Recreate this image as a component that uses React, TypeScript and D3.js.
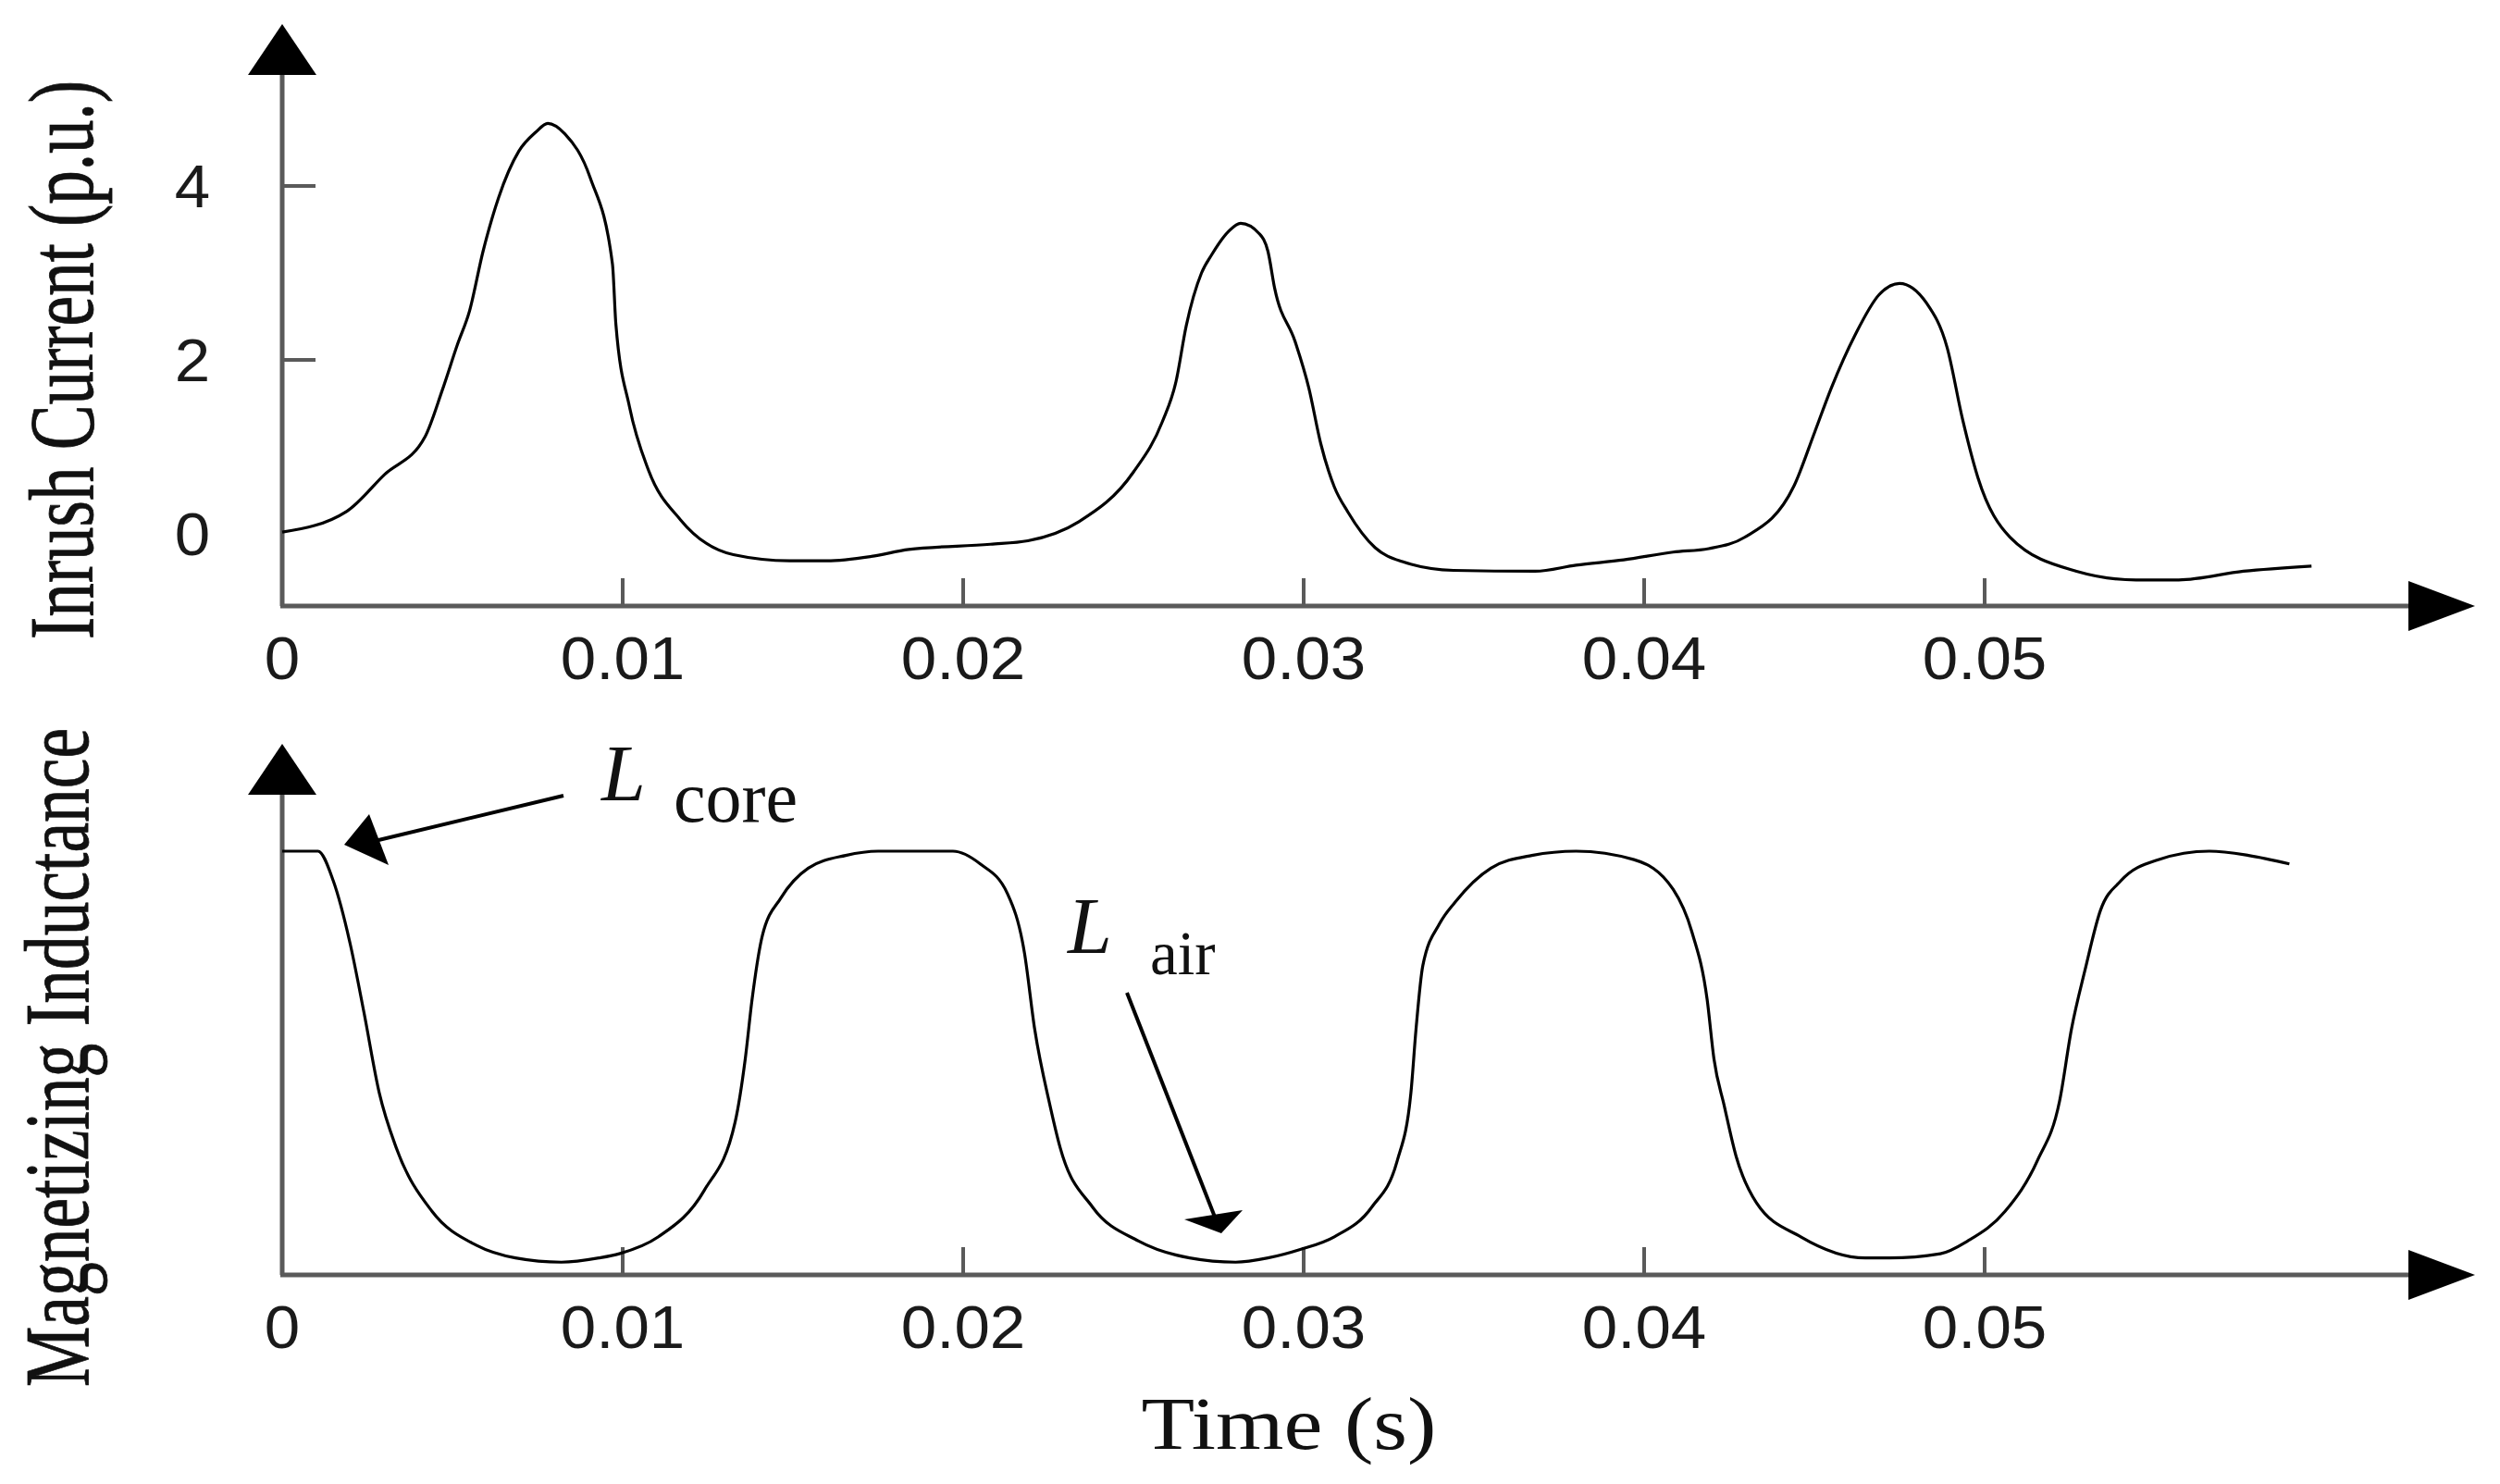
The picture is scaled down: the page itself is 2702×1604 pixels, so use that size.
import React from 'react';
import * as d3 from 'd3';

// time in ms (tick labels are shown in seconds)
const timeTicks = [0, 10, 20, 30, 40, 50];
const timeTickLabels = ['0', '0.01', '0.02', '0.03', '0.04', '0.05'];
const currentTicks = [0, 2, 4];
const currentTickLabels = ['0', '2', '4'];

// inrush current (p.u.)
const inrushTime = [
  0, 1.9, 3.0, 4.2, 4.7, 5.15, 5.5, 5.9, 6.35, 6.95, 7.45, 7.8, 8.3, 9.05, 9.7, 9.8,
  10.2, 10.75, 11.7, 13.25, 14.9, 16.0, 17.3, 18.4, 20.8, 21.9, 23.4, 25.0, 25.85,
  26.25, 26.55, 27.0, 27.3, 27.8, 28.15, 28.7, 28.95, 29.15, 29.75, 30.15, 30.5,
  30.9, 31.3, 32.1, 32.9, 34.4, 36.8, 38.0, 39.4, 40.85, 41.9, 42.95, 44.4, 45.0,
  45.5, 46.2, 46.9, 47.5, 48.3, 48.9, 49.35, 49.8, 50.75, 52.7, 54.45, 55.7, 57.6, 59.6,
];
const inrushCurrent = [
  0.02, 0.26, 0.68, 1.12, 1.65, 2.18, 2.56, 3.25, 3.86, 4.4, 4.62, 4.72, 4.6, 4.09, 3.1, 2.41,
  1.46, 0.74, 0.16, -0.24, -0.31, -0.31, -0.26, -0.18, -0.12, -0.08, 0.14, 0.71, 1.29,
  1.75, 2.39, 3.0, 3.21, 3.48, 3.57, 3.45, 3.25, 2.82, 2.21, 1.68, 1.04,
  0.54, 0.25, -0.16, -0.32, -0.42, -0.43, -0.36, -0.3, -0.21, -0.17, -0.04, 0.55, 1.16,
  1.68, 2.29, 2.75, 2.88, 2.65, 2.14, 1.32, 0.65, -0.04, -0.43, -0.53, -0.53, -0.43, -0.37,
];

// magnetizing inductance, relative (1 = L core plateau)
const inductTime = [
  0, 1.05, 1.5, 2.0, 2.4, 2.85, 3.35, 4.4, 5.7, 6.85, 8.2, 9.3, 9.9, 11.05, 12.4, 13.3,
  13.6, 13.8, 14.1, 14.65, 15.45, 16.55, 17.5, 19.7, 20.5, 21.3, 21.8, 22.1, 22.55,
  22.85, 23.8, 25.15, 26.65, 28.0, 28.95, 29.9, 30.9, 32.0, 32.75, 33.15, 33.3, 33.5,
  34.0, 34.45, 35.5, 36.7, 38.0, 39.7, 40.85, 41.4, 41.85, 42.05, 42.35, 42.7, 43.3,
  44.6, 46.5, 47.2, 48.7, 49.5, 50.6, 51.55, 52.2, 52.55, 52.95, 53.4, 54.0, 55.1,
  56.6, 57.75, 58.95,
];
const inductValue = [
  1.0, 1.0, 0.93, 0.78, 0.62, 0.43, 0.3, 0.15, 0.07, 0.04, 0.03, 0.04, 0.05, 0.09, 0.2, 0.36,
  0.51, 0.65, 0.8, 0.89, 0.96, 0.99, 1.0, 1.0, 0.97, 0.9, 0.76, 0.58, 0.4,
  0.3, 0.16, 0.08, 0.04, 0.03, 0.04, 0.06, 0.09, 0.16, 0.27, 0.43, 0.58, 0.73,
  0.83, 0.88, 0.96, 0.99, 1.0, 0.98, 0.91, 0.81, 0.65, 0.51, 0.4, 0.28, 0.17,
  0.09, 0.04, 0.04, 0.05, 0.08, 0.15, 0.27, 0.41, 0.58, 0.72, 0.86, 0.93, 0.98,
  1.0, 0.99, 0.97,
];

const W = 2702;
const H = 1604;
const AXIS = '#5a5a5a';
const SANS = '"Liberation Sans", Arial, sans-serif';
const SERIF = '"Liberation Serif", "Times New Roman", serif';

const x = d3.scaleLinear().domain([0, 60]).range([305, 2513]);
const yTop = d3.scaleLinear().domain([0, 4]).range([577, 201]);
const yBot = d3.scaleLinear().domain([0, 1]).range([1378, 920]);

const topAxisY = 655;
const botAxisY = 1378;
const axisX = x(0);
const arrowEnd = 2675;

const lineTop = d3
  .line<number>()
  .x((_, i) => x(inrushTime[i]))
  .y((d) => yTop(d))
  .curve(d3.curveMonotoneX);

const lineBot = d3
  .line<number>()
  .x((_, i) => x(inductTime[i]))
  .y((d) => yBot(d))
  .curve(d3.curveMonotoneX);

function Frame({ axisY, tipY }: { axisY: number; tipY: number }) {
  return (
    <g>
      <line x1={axisX} y1={axisY} x2={axisX} y2={tipY + 50} stroke={AXIS} strokeWidth={5} />
      <line x1={axisX - 2} y1={axisY} x2={arrowEnd - 70} y2={axisY} stroke={AXIS} strokeWidth={5} />
      <polygon points={`${axisX},${tipY} ${axisX - 37},${tipY + 55} ${axisX + 37},${tipY + 55}`} fill="#000" />
      <polygon
        points={`${arrowEnd},${axisY} ${arrowEnd - 72},${axisY - 27} ${arrowEnd - 72},${axisY + 27}`}
        fill="#000"
      />
      {timeTicks.map((t, i) => (
        <g key={t}>
          {t > 0 && (
            <line x1={x(t)} y1={axisY} x2={x(t)} y2={axisY - 30} stroke={AXIS} strokeWidth={4} />
          )}
          <text
            transform={`translate(${x(t)},${axisY + 79}) scale(1.08,1)`}
            textAnchor="middle"
            fontFamily={SANS}
            fontSize={64}
            fill="#1a1a1a"
          >
            {timeTickLabels[i]}
          </text>
        </g>
      ))}
    </g>
  );
}

export default function App() {
  return (
    <svg
      width={W}
      height={H}
      viewBox={`0 0 ${W} ${H}`}
      style={{ position: 'absolute', left: 0, top: 0, background: '#fff' }}
    >
      <rect width={W} height={H} fill="#fff" />

      {/* top panel: inrush current */}
      <Frame axisY={topAxisY} tipY={26} />
      {currentTicks.map((v, i) => (
        <g key={v}>
          {v > 0 && (
            <line x1={axisX} y1={yTop(v)} x2={axisX + 36} y2={yTop(v)} stroke={AXIS} strokeWidth={4} />
          )}
          <text
            transform={`translate(208,${yTop(v) + 23}) scale(1.08,1)`}
            textAnchor="middle"
            fontFamily={SANS}
            fontSize={64}
            fill="#1a1a1a"
          >
            {currentTickLabels[i]}
          </text>
        </g>
      ))}
      <path d={lineTop(inrushCurrent) || ''} fill="none" stroke="#000" strokeWidth={3.2} />
      <text
        transform="translate(100,389) scale(1.37,1) rotate(-90)"
        textAnchor="middle"
        fontFamily={SERIF}
        fontSize={73}
        fill="#111"
        stroke="#111"
        strokeWidth={0.6}
      >
        Inrush Current (p.u.)
      </text>

      {/* bottom panel: magnetizing inductance */}
      <Frame axisY={botAxisY} tipY={804} />
      <path d={lineBot(inductValue) || ''} fill="none" stroke="#000" strokeWidth={3.2} />
      <text
        transform="translate(95,1143) scale(1.36,1) rotate(-90)"
        textAnchor="middle"
        fontFamily={SERIF}
        fontSize={73.5}
        fill="#111"
        stroke="#111"
        strokeWidth={0.6}
      >
        Magnetizing Inductance
      </text>
      <text
        transform="translate(1393,1566) scale(1.18,1)"
        textAnchor="middle"
        fontFamily={SERIF}
        fontSize={80}
        fill="#111"
      >
        Time (s)
      </text>

      {/* L core annotation */}
      <line x1={609} y1={860} x2={405} y2={909} stroke="#000" strokeWidth={4} />
      <polygon points="372,913 399,880 420,935" fill="#000" />
      <text x={650} y={865} fontFamily={SERIF} fontStyle="italic" fontSize={86} fill="#111">
        L
      </text>
      <text x={728} y={888} fontFamily={SERIF} fontSize={78} fill="#111">
        core
      </text>

      {/* L air annotation */}
      <line x1={1218} y1={1073} x2={1314} y2={1318} stroke="#000" strokeWidth={4} />
      <polygon points="1320,1333 1280,1318 1343,1308" fill="#000" />
      <text x={1154} y={1030} fontFamily={SERIF} fontStyle="italic" fontSize={86} fill="#111">
        L
      </text>
      <text x={1243} y={1053} fontFamily={SERIF} fontSize={67} fill="#111">
        air
      </text>
    </svg>
  );
}
